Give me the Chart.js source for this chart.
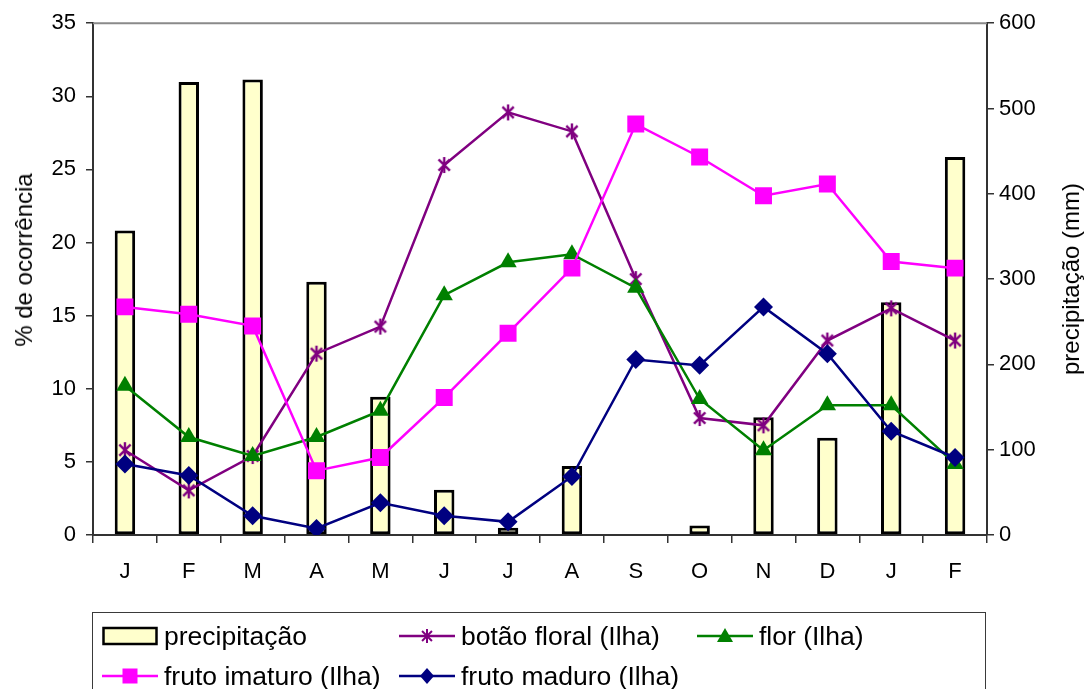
<!DOCTYPE html>
<html lang="pt">
<head>
<meta charset="utf-8">
<title>Fenologia e precipitação</title>
<script src="https://cdn.jsdelivr.net/npm/chart.js@4/dist/chart.umd.min.js"></script>
<style>
  html, body { margin: 0; padding: 0; background: #fff; overflow: hidden; }
  #wrap { position: relative; width: 1090px; height: 689px; font-family: "Liberation Sans", Arial, sans-serif; color: #000; }
  #chart { position: absolute; left: 0; top: 0; }
  .ytitle { position: absolute; white-space: nowrap; font-size: 24px; transform: translate(-50%, -50%) rotate(-90deg); }
  #legend { position: absolute; left: 92px; top: 612px; width: 894px; height: 110px; border: 1.5px solid #3a3a3a; box-sizing: border-box; }
  .item { position: absolute; display: flex; align-items: center; height: 30px; font-size: 26.5px; white-space: nowrap; }
  .item svg { margin-right: 6px; flex: none; }
</style>
</head>
<body>
<div id="wrap">
  <canvas id="chart" width="1090" height="689"></canvas>
  <div class="ytitle" style="left:24px; top:260px;">% de ocorrência</div>
  <div class="ytitle" style="left:1071px; top:279px;">precipitação (mm)</div>
  <div id="legend"></div>
</div>
<script>
// Meses do ciclo observado (jan a fev do ano seguinte)
const months = ['J', 'F', 'M', 'A', 'M', 'J', 'J', 'A', 'S', 'O', 'N', 'D', 'J', 'F'];

// Precipitação mensal (mm) – eixo da direita
const precipitacao = [357, 531, 534, 297, 162, 53, 8.5, 81, 0, 11, 138, 114, 273, 443];

// Percentual de ocorrência das fenofases (Ilha) – eixo da esquerda
const botaoFloral  = [5.8, 3.05, 5.4, 12.4, 14.25, 25.3, 28.9, 27.6, 17.5, 8.0, 7.5, 13.3, 15.5, 13.3];
const flor         = [10.2, 6.7, 5.4, 6.7, 8.5, 16.4, 18.65, 19.2, 16.9, 9.3, 5.8, 8.87, 8.87, 4.86];
const frutoImaturo = [15.6, 15.1, 14.3, 4.4, 5.3, 9.4, 13.8, 18.25, 28.1, 25.85, 23.2, 24.0, 18.7, 18.25];
const frutoMaduro  = [4.86, 4.07, 1.31, 0.45, 2.2, 1.31, 0.9, 4.0, 12.0, 11.6, 15.6, 12.4, 7.1, 5.3];

// Marcas dos eixos
const leftTicks  = [0, 5, 10, 15, 20, 25, 30, 35];
const rightTicks = [0, 100, 200, 300, 400, 500, 600];

const COLORS = {
  botao: '#800080',
  flor: '#008000',
  imaturo: '#FF00FF',
  maduro: '#000080',
  barFill: '#FFFFCC'
};

// Asterisco (traço vertical + X) usado como marcador do botão floral
function asteriskMarker(color, size, lw) {
  const c = document.createElement('canvas');
  c.width = size; c.height = size;
  const g = c.getContext('2d');
  const m = size / 2, r = size / 2 - 1;
  const d = r * Math.SQRT1_2;
  g.strokeStyle = color;
  g.lineWidth = lw;
  g.lineCap = 'butt';
  g.beginPath();
  g.moveTo(m, m - r); g.lineTo(m, m + r);
  g.moveTo(m - d, m - d); g.lineTo(m + d, m + d);
  g.moveTo(m + d, m - d); g.lineTo(m - d, m + d);
  g.stroke();
  return c;
}
const starImg = asteriskMarker(COLORS.botao, 18, 2.4);

// Contorno superior da área do gráfico
const frameTop = {
  id: 'frameTop',
  beforeDatasetsDraw(chart) {
    const { ctx, chartArea } = chart;
    ctx.save();
    ctx.strokeStyle = '#8a8a8a';
    ctx.lineWidth = 2;
    ctx.beginPath();
    ctx.moveTo(chartArea.left, chartArea.top);
    ctx.lineTo(chartArea.right, chartArea.top);
    ctx.stroke();
    ctx.restore();
  }
};

const lineDs = (label, data, color, style, radius, order) => ({
  type: 'line',
  label,
  data,
  yAxisID: 'y',
  borderColor: color,
  backgroundColor: color,
  borderWidth: 2.5,
  tension: 0,
  pointStyle: style,
  pointRadius: radius,
  pointHoverRadius: radius,
  pointBackgroundColor: color,
  pointBorderColor: color,
  pointBorderWidth: 0,
  order
});

const AXIS = '#333333';
const FONT = '"Liberation Sans", Arial, sans-serif';

new Chart(document.getElementById('chart'), {
  data: {
    labels: months,
    datasets: [
      {
        type: 'bar',
        label: 'precipitação',
        data: precipitacao,
        yAxisID: 'y1',
        backgroundColor: COLORS.barFill,
        borderColor: '#000',
        borderWidth: 3,
        borderSkipped: false,
        barPercentage: 0.32,
        categoryPercentage: 1,
        order: 10
      },
      lineDs('botão floral (Ilha)', botaoFloral, COLORS.botao, starImg, 9, 4),
      lineDs('flor (Ilha)', flor, COLORS.flor, 'triangle', 10, 3),
      lineDs('fruto imaturo (Ilha)', frutoImaturo, COLORS.imaturo, 'rect', 12, 2),
      lineDs('fruto maduro (Ilha)', frutoMaduro, COLORS.maduro, 'rectRot', 9.5, 1)
    ]
  },
  options: {
    responsive: false,
    devicePixelRatio: 1,
    animation: false,
    events: [],
    layout: { padding: { top: 20, left: 0, right: 0, bottom: 0 } },
    plugins: {
      legend: { display: false },
      tooltip: { enabled: false },
      title: { display: false }
    },
    scales: {
      x: {
        type: 'category',
        position: 'bottom',
        offset: true,
        grid: { display: true, drawOnChartArea: false, drawTicks: true, tickLength: 8, color: AXIS, lineWidth: 1.5, offset: true },
        border: { display: true, color: AXIS, width: 2 },
        ticks: { color: '#000', font: { family: FONT, size: 22 }, padding: 16, maxRotation: 0, autoSkip: false },
        afterFit(scale) { scale.height = 689 - 535; }
      },
      y: {
        type: 'linear',
        position: 'left',
        min: 0,
        max: 35,
        afterBuildTicks(scale) { scale.ticks = leftTicks.map(v => ({ value: v })); },
        grid: { display: true, drawOnChartArea: false, drawTicks: true, tickLength: 7, color: AXIS, lineWidth: 1.5 },
        border: { display: true, color: AXIS, width: 2 },
        ticks: { color: '#000', font: { family: FONT, size: 22 }, padding: 10 },
        afterFit(scale) { scale.width = 93; }
      },
      y1: {
        type: 'linear',
        position: 'right',
        min: 0,
        max: 600,
        afterBuildTicks(scale) { scale.ticks = rightTicks.map(v => ({ value: v })); },
        grid: { display: true, drawOnChartArea: false, drawTicks: true, tickLength: 7, color: AXIS, lineWidth: 1.5 },
        border: { display: true, color: AXIS, width: 2 },
        ticks: { color: '#000', font: { family: FONT, size: 22 }, padding: 5 },
        afterFit(scale) { scale.width = 1090 - 987; }
      }
    }
  },
  plugins: [frameTop]
});

// Legenda em caixa abaixo do gráfico
const legendItems = [
  { label: 'precipitação', kind: 'bar', x: 9, y: 8 },
  { label: 'botão floral (Ilha)', kind: 'star', color: COLORS.botao, x: 306, y: 8 },
  { label: 'flor (Ilha)', kind: 'triangle', color: COLORS.flor, x: 604, y: 8 },
  { label: 'fruto imaturo (Ilha)', kind: 'square', color: COLORS.imaturo, x: 9, y: 48 },
  { label: 'fruto maduro (Ilha)', kind: 'diamond', color: COLORS.maduro, x: 306, y: 48 }
];

function legendIcon(it) {
  const W = 56, H = 24, cx = W / 2, cy = H / 2;
  let body = '';
  if (it.kind === 'bar') {
    body = `<rect x="1.5" y="4" width="${W - 3}" height="16" fill="${COLORS.barFill}" stroke="#000" stroke-width="2.5"/>`;
  } else {
    body = `<line x1="0" y1="${cy}" x2="${W}" y2="${cy}" stroke="${it.color}" stroke-width="2.5"/>`;
    if (it.kind === 'star') {
      const r = 7, d = r * Math.SQRT1_2;
      body += `<path d="M${cx} ${cy - r}V${cy + r}M${cx - d} ${cy - d}L${cx + d} ${cy + d}M${cx + d} ${cy - d}L${cx - d} ${cy + d}" stroke="${it.color}" stroke-width="2" fill="none"/>`;
    } else if (it.kind === 'triangle') {
      body += `<polygon points="${cx},${cy - 8} ${cx + 8},${cy + 6} ${cx - 8},${cy + 6}" fill="${it.color}"/>`;
    } else if (it.kind === 'square') {
      body += `<rect x="${cx - 7.5}" y="${cy - 7.5}" width="15" height="15" fill="${it.color}"/>`;
    } else if (it.kind === 'diamond') {
      body += `<polygon points="${cx},${cy - 8} ${cx + 7},${cy} ${cx},${cy + 8} ${cx - 7},${cy}" fill="${it.color}"/>`;
    }
  }
  return `<svg width="${W}" height="${H}" viewBox="0 0 ${W} ${H}">${body}</svg>`;
}

const legendEl = document.getElementById('legend');
legendItems.forEach(it => {
  const div = document.createElement('div');
  div.className = 'item';
  div.style.left = it.x + 'px';
  div.style.top = it.y + 'px';
  div.innerHTML = legendIcon(it) + `<span>${it.label}</span>`;
  legendEl.appendChild(div);
});
</script>
</body>
</html>
